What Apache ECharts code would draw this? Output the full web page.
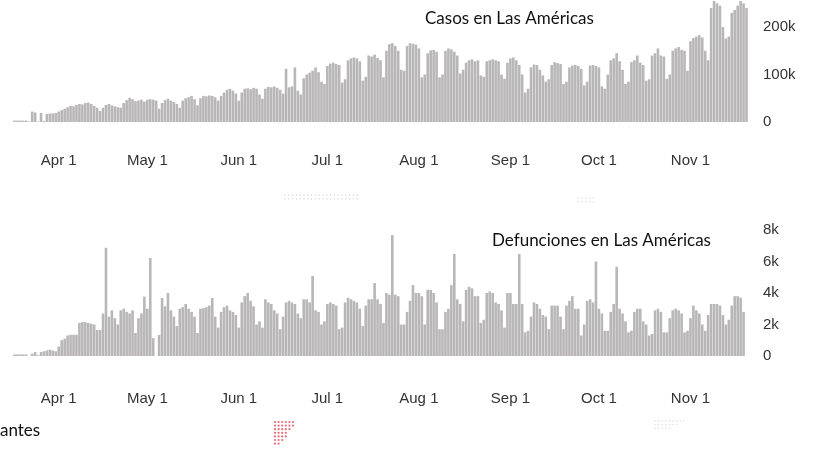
<!DOCTYPE html>
<html>
<head>
<meta charset="utf-8">
<script src="https://cdn.jsdelivr.net/npm/echarts@6/dist/echarts.min.js"></script>
<style>
  html, body { margin: 0; padding: 0; background: #ffffff; }
  #chart { width: 817px; height: 451px; }
</style>
</head>
<body>
<div id="chart"></div>
<script>
// ---- Data ----
// Daily series, one value per day starting at startDate.
const startDate = '2020-03-17';
const dayCount = 249;

// Daily cases in the Americas, thousands
const casesK = [
  3,3,3,3,3,1,22,20,1,19,2,17,18,18,19,22,25,28,31,34,
  33,36,38,37,40,41,38,34,30,23,30,36,38,35,33,31,30,40,46,51,
  48,44,45,47,43,47,48,47,45,28,40,46,49,45,42,38,30,45,50,52,
  55,48,35,50,55,54,56,55,52,45,55,62,68,70,66,60,45,62,70,71,
  69,72,70,58,49,70,74,73,75,72,68,60,112,73,75,115,66,58,92,100,
  104,108,115,105,85,80,118,123,125,122,120,83,90,130,134,136,134,128,87,95,
  140,138,142,135,130,94,150,164,166,160,150,110,108,160,166,165,163,155,94,100,
  145,151,152,148,94,100,150,155,153,148,140,102,110,125,130,132,128,130,98,95,
  128,130,132,130,128,100,91,125,134,136,130,120,100,62,70,115,121,120,110,98,
  85,90,120,126,124,122,80,85,115,119,120,118,112,77,85,119,120,118,115,75,
  70,100,130,134,145,128,110,80,85,126,130,140,125,120,87,90,140,145,155,140,
  138,91,100,150,155,158,152,150,108,170,177,180,183,178,150,130,240,255,250,245,
  200,176,180,230,236,245,255,250,240
];

// Daily deaths in the Americas, thousands
const deathsK = [
  0.1,0.1,0.1,0.1,0.1,0,0.15,0.25,0.05,0.25,0.3,0.35,0.4,0.35,0.3,0.6,1.0,1.1,1.3,1.35,
  1.35,1.35,2.1,2.15,2.15,2.1,2.05,2.0,1.65,1.65,2.7,6.87,2.5,2.9,2.4,2.0,2.9,3.0,2.8,2.7,
  2.9,1.46,2.4,2.7,3.77,3.0,6.22,1.13,0,1.33,3.68,3.15,4.0,2.9,2.5,1.9,3.0,3.1,3.3,3.0,
  2.8,2.5,1.46,3.0,3.05,3.1,3.2,3.68,2.5,1.8,2.8,3.1,3.2,2.9,2.8,2.6,1.8,3.4,3.8,4.0,
  3.5,3.15,2.0,2.2,1.8,3.6,3.4,3.3,2.9,2.7,1.7,2.5,3.4,3.5,3.4,3.3,2.7,2.4,3.6,3.6,
  3.4,5.08,2.9,2.8,2.0,2.2,3.3,3.4,3.3,3.2,1.7,1.8,3.4,3.7,3.6,3.5,3.4,3.0,1.9,3.2,
  3.6,3.6,4.63,3.6,3.3,2.1,4.0,3.9,7.68,3.9,3.8,2.0,2.0,2.8,3.5,4.5,4.0,4.0,3.8,2.0,
  4.2,4.2,4.0,3.4,1.7,1.7,2.8,3.0,4.5,6.48,3.6,3.3,2.2,4.2,4.4,4.3,3.8,3.8,2.1,2.3,
  4.0,4.1,4.0,3.4,3.3,2.9,1.8,4.0,4.0,3.3,3.3,6.48,3.3,1.5,1.6,2.5,3.4,3.3,3.0,2.6,
  2.5,1.7,3.2,3.2,3.2,2.5,1.7,3.2,3.5,3.8,3.0,3.0,1.3,2.0,3.5,3.6,3.4,6.0,3.0,2.7,
  1.6,1.6,2.8,3.3,5.67,3.0,2.7,2.2,1.5,1.6,2.8,3.0,3.0,2.2,2.0,1.3,1.4,2.9,3.0,2.8,
  1.5,1.5,2.4,2.9,3.0,2.9,2.7,1.5,1.6,2.4,3.2,2.9,2.7,2.0,1.6,2.6,3.3,3.3,3.3,3.2,
  2.6,2.0,2.3,3.2,3.8,3.8,3.7,2.8,null
];

const monthNames = ['Jan','Feb','Mar','Apr','May','Jun','Jul','Aug','Sep','Oct','Nov','Dec'];
const casesTitle = 'Casos en Las Américas';
const deathsTitle = 'Defunciones en Las Américas';
const cutText = 'antes';
const casesTicksK = [0, 100, 200];
const deathsTicksK = [0, 2, 4, 6, 8];

// ---- Build date categories ----
const dates = [];
(function () {
  const d0 = new Date(startDate + 'T00:00:00Z');
  for (let i = 0; i < dayCount; i++) {
    const d = new Date(d0.getTime() + i * 86400000);
    dates.push(d.toISOString().slice(0, 10));
  }
})();

const axisFont = { fontFamily: 'Liberation Sans, Arial, sans-serif', fontSize: 15, color: '#333333' };
const barColor = '#b8b6b6';
const titleFont = { fontFamily: 'Lato, sans-serif', fontWeight: 'normal', fontSize: 17, color: '#111' };

function dateLabel(v) {
  const m = parseInt(v.slice(5, 7), 10) - 1;
  return monthNames[m] + ' ' + parseInt(v.slice(8), 10);
}
function isFirst(idx, v) { return v.slice(8) === '01'; }

// decorative dotted residue (red triangle, faint gray rows) seen in the picture
function dotGroup(x0, y0, rows, colsFn, step, r, fill) {
  const children = [];
  for (let k = 0; k < rows; k++) {
    const n = colsFn(k);
    for (let c = 0; c < n; c++) {
      children.push({ type: 'circle', shape: { cx: x0 + c * step, cy: y0 + k * step, r: r },
        style: { fill: fill } });
    }
  }
  return { type: 'group', silent: true, children: children };
}

const chart = echarts.init(document.getElementById('chart'), null, { renderer: 'canvas' });

chart.setOption({
  animation: false,
  backgroundColor: '#ffffff',
  title: [
    { text: casesTitle, left: 425, top: 10, textStyle: titleFont, padding: 0 },
    { text: deathsTitle, left: 492, top: 232, textStyle: titleFont, padding: 0 },
    { text: cutText, left: 0, top: 422, textStyle: titleFont, padding: 0 }
  ],
  graphic: [
    dotGroup(275, 422, 7, k => Math.max(1, 6 - Math.floor(k / 1.5)), 3.6, 1.1, '#ee6877'),
    dotGroup(285, 195, 2, k => 20, 3.8, 0.7, '#d4d4d4'),
    dotGroup(578, 198, 2, k => 5, 3.8, 0.7, '#d8d8d8'),
    dotGroup(655, 421, 3, k => 9 - k * 2, 3.6, 0.7, '#d8d8d8')
  ],
  grid: [
    { left: 13, right: 69, top: 0, height: 122 },
    { left: 13, right: 69, top: 230, height: 126 }
  ],
  xAxis: [
    { type: 'category', gridIndex: 0, data: dates,
      axisLine: { show: false }, axisTick: { show: false },
      axisLabel: Object.assign({ interval: isFirst, formatter: dateLabel, margin: 31 }, axisFont) },
    { type: 'category', gridIndex: 1, data: dates,
      axisLine: { show: false }, axisTick: { show: false },
      axisLabel: Object.assign({ interval: isFirst, formatter: dateLabel, margin: 35 }, axisFont) }
  ],
  yAxis: [
    { type: 'value', gridIndex: 0, position: 'right', min: 0, max: 257, interval: 100,
      splitLine: { show: false }, axisLine: { show: false }, axisTick: { show: false },
      axisLabel: Object.assign({ margin: 15, showMaxLabel: false,
        formatter: v => casesTicksK.indexOf(v) < 0 ? '' : (v === 0 ? '0' : v + 'k') }, axisFont) },
    { type: 'value', gridIndex: 1, position: 'right', min: 0, max: 8, interval: 2,
      splitLine: { show: false }, axisLine: { show: false }, axisTick: { show: false },
      axisLabel: Object.assign({ margin: 15,
        formatter: v => deathsTicksK.indexOf(v) < 0 ? '' : (v === 0 ? '0' : v + 'k') }, axisFont) }
  ],
  series: [
    { type: 'bar', xAxisIndex: 0, yAxisIndex: 0, data: casesK,
      barCategoryGap: '12%', itemStyle: { color: barColor } },
    { type: 'bar', xAxisIndex: 1, yAxisIndex: 1, data: deathsK,
      barCategoryGap: '12%', itemStyle: { color: barColor } }
  ]
});
</script>
</body>
</html>
